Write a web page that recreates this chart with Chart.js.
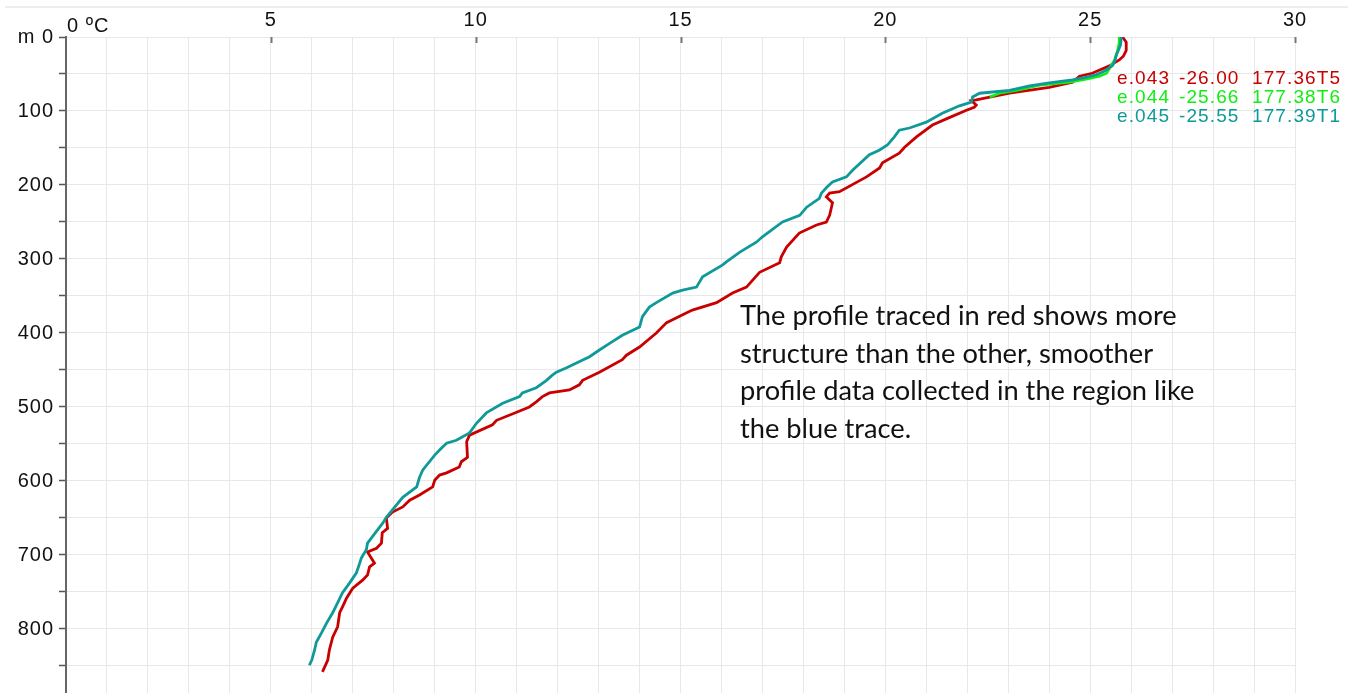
<!DOCTYPE html>
<html>
<head>
<meta charset="utf-8">
<title>Temperature profiles e.043 - e.045</title>
<script src="https://cdn.jsdelivr.net/npm/chart.js@4.4.1/dist/chart.umd.min.js"></script>
<style>
  html, body { margin: 0; padding: 0; background: #fff; }
  .wrap { position: relative; width: 1358px; height: 693px; overflow: hidden; }
  .topline { position: absolute; left: 5px; top: 6px; width: 1343px; height: 2px; background: #ededed; }
  #profileChart { position: absolute; left: 0; top: 0; }
  .note { position: absolute; left: 740px; top: 296px; font-family: Lato, sans-serif; font-size: 27.25px;
          line-height: 37.7px; color: #111; white-space: nowrap; }
</style>
</head>
<body>
<div class="wrap">
  <div class="topline"></div>
  <canvas id="profileChart" width="1358" height="693"></canvas>
  <div class="note">The profile traced in red shows more<br>structure than the other, smoother<br>profile data collected in the region like<br>the blue trace.</div>
</div>
<script>
// ── Profile data (depth in m, temperature in °C) ──────────────────
const redDepth = [0, 7, 18, 26, 31, 39, 49, 53, 61, 68, 76, 85, 86, 92, 95, 99, 109, 119, 135, 149,
    157, 170, 177, 189, 209, 211, 216, 224, 241, 250, 254, 265, 284, 297, 305, 318, 338, 346, 359, 369,
    373, 386, 400, 419, 430, 436, 453, 464, 470, 477, 481, 486, 493, 500, 507, 518, 524, 538, 547, 568,
    574, 581, 589, 592, 599, 608, 619, 626, 635, 642, 650, 664, 670, 684, 691, 696, 711, 716, 727, 734,
    745, 758, 770, 778, 797, 811, 828, 842, 858];
const redTemp = [25.79, 25.88, 25.88, 25.81, 25.71, 25.47, 25.05, 24.74, 24.57, 24.0, 23.03, 22.22, 22.1, 22.22, 22.17, 21.98, 21.56, 21.15, 20.76, 20.47,
    20.34, 19.93, 19.86, 19.54, 18.88, 18.64, 18.56, 18.71, 18.64, 18.56, 18.32, 17.9, 17.59, 17.46, 17.42, 16.93, 16.61, 16.27, 15.88, 15.29,
    15.14, 14.66, 14.41, 14.0, 13.68, 13.58, 13.02, 12.61, 12.53, 12.29, 11.8, 11.63, 11.48, 11.31, 11.0, 10.51, 10.41, 9.85, 9.78, 9.8,
    9.65, 9.6, 9.29, 9.12, 9.0, 8.95, 8.63, 8.39, 8.22, 7.97, 7.82, 7.85, 7.72, 7.7, 7.58, 7.36, 7.53, 7.41, 7.36, 7.24,
    7.0, 6.85, 6.75, 6.68, 6.63, 6.51, 6.43, 6.39, 6.26];

const greenDepth = [0, 8, 18, 24, 31, 38, 49, 53, 57, 61, 65, 72, 76, 81];
const greenTemp  = [25.71, 25.71, 25.67, 25.64, 25.6, 25.52, 25.4, 25.23, 24.9, 24.5, 23.77, 23.2, 22.79, 22.55];

const tealDepth = [0, 11, 18, 24, 34, 39, 46, 51, 55, 58, 62, 66, 72, 76, 81, 88, 93, 103, 115, 123,
    126, 135, 146, 153, 159, 180, 189, 196, 203, 211, 218, 230, 241, 250, 270, 277, 291, 304, 308, 324,
    338, 342, 346, 359, 365, 378, 392, 403, 414, 423, 432, 442, 447, 453, 458, 464, 474, 481, 486, 495,
    508, 522, 535, 545, 549, 558, 565, 585, 595, 608, 622, 649, 657, 684, 693, 704, 711, 724, 738, 751,
    768, 778, 792, 805, 818, 828, 842, 849];
const tealTemp = [25.76, 25.74, 25.69, 25.64, 25.59, 25.54, 25.35, 25.15, 24.86, 24.57, 24.0, 23.52, 23.03, 22.3, 22.13, 22.1, 21.81, 21.39, 21.0, 20.59,
    20.34, 20.22, 20.05, 19.85, 19.61, 19.2, 19.05, 18.71, 18.57, 18.44, 18.39, 18.08, 17.91, 17.49, 17.0, 16.86, 16.44, 16.12, 16.03, 15.54,
    15.39, 15.05, 14.81, 14.41, 14.24, 14.07, 14.0, 13.58, 13.27, 13.02, 12.78, 12.41, 12.22, 11.97, 11.85, 11.73, 11.48, 11.14, 11.07, 10.66,
    10.26, 10.02, 9.85, 9.53, 9.29, 9.12, 9.0, 8.71, 8.63, 8.56, 8.22, 7.82, 7.73, 7.36, 7.33, 7.21, 7.17, 7.09, 6.92, 6.75,
    6.6, 6.51, 6.36, 6.24, 6.11, 6.07, 6.0, 5.94];

// ── Station labels ───────────────────────────────────────────────
const stationIds  = ['e.043', 'e.044', 'e.045'];
const stationLats = ['-26.00', '-25.66', '-25.55'];
const stationLons = ['177.36T5', '177.38T6', '177.39T1'];

// ── Axis labels ──────────────────────────────────────────────────
const tempLabels  = [5, 10, 15, 20, 25, 30];
const depthLabels = [0, 100, 200, 300, 400, 500, 600, 700, 800];

const RED   = '#c80000';
const GREEN = '#11ee11';
const TEAL  = '#0f9999';
const LABEL_FAMILY = '"Liberation Sans", Arial, sans-serif';

function toPoints(temps, depths) {
    return temps.map((t, i) => ({ x: t, y: depths[i] }));
}

// ── Extra drawing: inner x ticks, unit label, station list ───────
const decorPlugin = {
    id: 'decor',
    beforeDraw(chart) {
        chart.ctx.letterSpacing = '1px';
    },
    afterDraw(chart) {
        const ctx = chart.ctx;
        const x = chart.scales.x;
        const top = chart.chartArea.top;
        ctx.save();
        ctx.strokeStyle = '#777';
        ctx.lineWidth = 2;
        tempLabels.forEach(v => {
            const px = Math.round(x.getPixelForValue(v)) + 0.5;
            ctx.beginPath();
            ctx.moveTo(px, top);
            ctx.lineTo(px, top + 6);
            ctx.stroke();
        });

        ctx.fillStyle = '#111';
        ctx.font = '20px ' + LABEL_FAMILY;
        ctx.letterSpacing = '1px';
        ctx.textAlign = 'left';
        ctx.textBaseline = 'alphabetic';
        ctx.fillText('0 ºC', x.getPixelForValue(0) + 1, top - 5);

        const colors = [RED, GREEN, TEAL];
        const baselines = [84, 103, 122];
        ctx.font = '19px ' + LABEL_FAMILY;
        ctx.letterSpacing = '1.1px';
        stationIds.forEach((id, i) => {
            ctx.fillStyle = colors[i];
            ctx.fillText(id, 1117, baselines[i]);
            ctx.fillText(stationLats[i], 1179, baselines[i]);
            ctx.fillText(stationLons[i], 1252, baselines[i]);
        });
        ctx.restore();
    }
};

new Chart(document.getElementById('profileChart'), {
    type: 'scatter',
    data: {
        datasets: [
            { label: stationIds[0], data: toPoints(redTemp, redDepth),     borderColor: RED,   order: 3 },
            { label: stationIds[1], data: toPoints(greenTemp, greenDepth), borderColor: GREEN, order: 2 },
            { label: stationIds[2], data: toPoints(tealTemp, tealDepth),   borderColor: TEAL,  order: 1 }
        ]
    },
    options: {
        responsive: false,
        animation: false,
        showLine: true,
        layout: { padding: { left: 0, right: 63, top: 0, bottom: 0 } },
        elements: {
            point: { radius: 0, hoverRadius: 0 },
            line: { tension: 0, borderWidth: 2.8, fill: false }
        },
        plugins: {
            legend: { display: false },
            tooltip: { enabled: false }
        },
        scales: {
            x: {
                type: 'linear',
                position: 'top',
                min: 0,
                max: 30,
                afterFit: s => { s.height = 37; },
                border: { display: false },
                grid: { color: '#e8e8e8', drawTicks: false },
                ticks: {
                    stepSize: 1,
                    autoSkip: false,
                    maxRotation: 0,
                    padding: 5,
                    color: '#111',
                    font: { family: LABEL_FAMILY, size: 20 },
                    callback: v => tempLabels.includes(v) ? String(v) : ''
                }
            },
            y: {
                type: 'linear',
                reverse: true,
                min: 0,
                max: 886.5,
                // plot runs to the bottom edge, so drop the label overhang padding
                afterFit: s => { s.width = 66; s.paddingTop = 0; s.paddingBottom = 0; },
                border: { display: true, color: '#666', width: 2 },
                grid: { color: '#e8e8e8', tickColor: '#555', tickLength: 7, tickWidth: 1.5 },
                ticks: {
                    stepSize: 50,
                    includeBounds: false,
                    autoSkip: false,
                    padding: 5,
                    color: '#111',
                    font: { family: LABEL_FAMILY, size: 20 },
                    callback: v => v === 0 ? 'm 0' : (depthLabels.includes(v) ? String(v) : '')
                }
            }
        }
    },
    plugins: [decorPlugin]
});
</script>
</body>
</html>
